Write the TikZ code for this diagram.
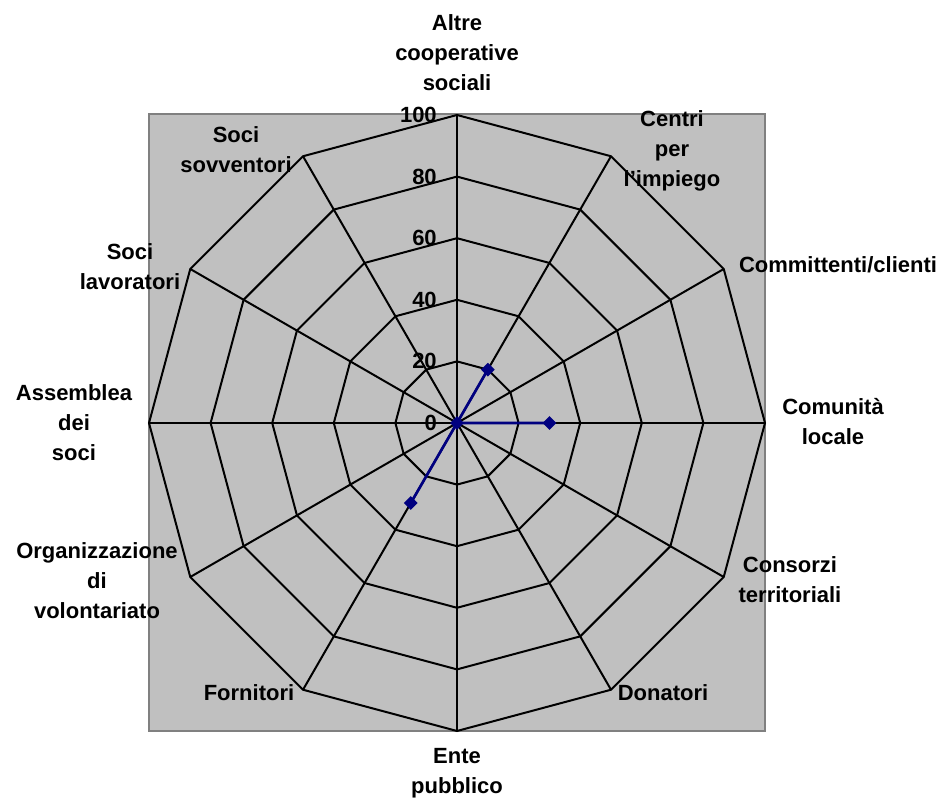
\documentclass[tikz,border=0pt]{standalone}
\usepackage{fontspec}
\setmainfont{Liberation Sans}
\usetikzlibrary{shapes.geometric}
\definecolor{plotgray}{RGB}{192,192,192}
\definecolor{framegray}{RGB}{128,128,128}
\definecolor{series}{RGB}{0,0,128}
\begin{document}
\begin{tikzpicture}[x=0.75pt,y=0.75pt,
  lbl/.style={font=\fontsize{16.5}{22.5}\selectfont\bfseries, align=center, inner sep=0pt},
  num/.style={font=\fontsize{16.5}{19}\selectfont\bfseries, anchor=east, inner sep=0pt},
  gridline/.style={black, line width=1.5pt, line join=miter},
  dataline/.style={series, line width=2pt},
  mk/.style={diamond, fill=series, draw=none, inner sep=0pt, minimum size=10.5pt}]
\useasboundingbox (0,0) rectangle (946,798);
\fill[plotgray, draw=framegray, line width=1.8pt] (149,67) rectangle (765,684);
\coordinate (C) at (457,375);
\begin{scope}[shift={(C)}]
  % rings
  \foreach \r in {61.6,123.2,184.8,246.4,308}{
    \draw[gridline] (90:\r) \foreach \i in {1,...,11}{ -- ({90-30*\i}:\r)} -- cycle;
  }
  % spokes
  \foreach \i in {0,...,11}{
    \draw[gridline] (0,0) -- ({90-30*\i}:308);
  }
  % scale labels
  \foreach \v [count=\k from 0] in {0,20,40,60,80,100}{
    \node[num] (n\v) at (-20,{61.6*\k}) {\v};
  }
  % data series
  \coordinate (O) at (0,0);
  \coordinate (P1) at (60:61.6);
  \coordinate (P3) at (0:92.4);
  \coordinate (P7) at (-120:92.4);
  \draw[dataline] (O) -- (P1) -- (O) -- (P3) -- (O) -- (P7) -- (O);
  \node[mk] (m0) at (O) {};
  \node[mk] (m1) at (P1) {};
  \node[mk] (m3) at (P3) {};
  \node[mk] (m7) at (P7) {};
\end{scope}
% category labels
\node[lbl] (l0) at (457,745) {Altre\\cooperative\\sociali};
\node[lbl] (l1) at (672,647) {Centri\\per\\l'impiego};
\node[lbl] (l2) at (838,533) {Committenti/clienti};
\node[lbl] (l3) at (833,376) {Comunità\\locale};
\node[lbl] (l4) at (790,218) {Consorzi\\territoriali};
\node[lbl] (l5) at (663,105) {Donatori};
\node[lbl] (l6) at (457,25) {Ente\\pubblico};
\node[lbl] (l7) at (249,105) {Fornitori};
\node[lbl] (l8) at (97,217) {Organizzazione\\di\\volontariato};
\node[lbl] (l9) at (74,375) {Assemblea\\dei\\soci};
\node[lbl] (l10) at (130,531) {Soci\\lavoratori};
\node[lbl] (l11) at (236,648) {Soci\\sovventori};
\end{tikzpicture}
\end{document}
